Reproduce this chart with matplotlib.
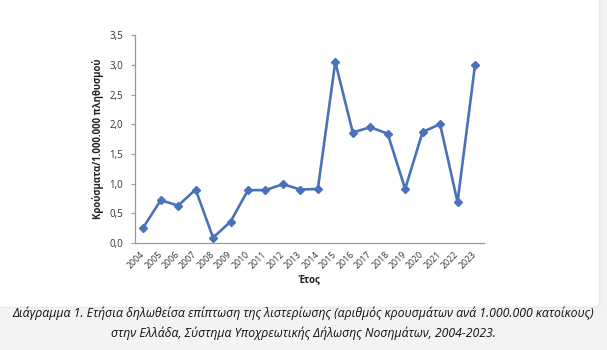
import matplotlib.pyplot as plt
from matplotlib.patches import FancyBboxPatch

# Data
years = ['2004', '2005', '2006', '2007', '2008', '2009', '2010', '2011', '2012', '2013',
         '2014', '2015', '2016', '2017', '2018', '2019', '2020', '2021', '2022', '2023']
incidence = [0.26, 0.72, 0.63, 0.90, 0.09, 0.36, 0.89, 0.89, 0.99, 0.90,
             0.91, 3.05, 1.86, 1.95, 1.84, 0.91, 1.87, 2.00, 0.69, 2.99]
y_ticks = [0.0, 0.5, 1.0, 1.5, 2.0, 2.5, 3.0, 3.5]
y_tick_labels = ['0,0', '0,5', '1,0', '1,5', '2,0', '2,5', '3,0', '3,5']

caption = ('Διάγραμμα 1. Ετήσια δηλωθείσα επίπτωση της λιστερίωσης (αριθμός κρουσμάτων ανά 1.000.000 κατοίκους)\n'
           'στην Ελλάδα, Σύστημα Υποχρεωτικής Δήλωσης Νοσημάτων, 2004-2023.')

plt.rcParams['font.family'] = ['Open Sans', 'DejaVu Sans']

fig = plt.figure(figsize=(6.07, 3.5), dpi=100, facecolor='#f3f3f3')

# white card behind the chart
card = FancyBboxPatch((-0.02, 0.122), 1.008, 0.9, boxstyle='round,pad=0,rounding_size=0.012',
                      transform=fig.transFigure, facecolor='white', edgecolor='#e6e6e6',
                      linewidth=0.8, zorder=0)
fig.patches.append(card)

ax = fig.add_axes([0.2216, 0.3057, 0.5753, 0.594], zorder=2)
ax.set_facecolor('none')
x = range(len(years))
ax.plot(x, incidence, color='#4a72b8', linewidth=1.9, marker='D', markersize=4.5,
        markerfacecolor='#4a72b8', markeredgecolor='#4a72b8')

ax.set_xlim(-0.5, len(years) - 0.5)
ax.set_ylim(0, 3.5)
ax.set_xticks(list(x))
ax.set_xticklabels(years, rotation=45, fontsize=6.3, color='#333333',
                   ha='right', va='center', rotation_mode='anchor')
ax.set_yticks(y_ticks)
ax.set_yticklabels(y_tick_labels, fontsize=7, color='#333333')
ax.tick_params(axis='x', length=0, pad=7)
ax.tick_params(axis='y', length=3, color='#999999', pad=5)

for side in ['top', 'right']:
    ax.spines[side].set_visible(False)
for side in ['left', 'bottom']:
    ax.spines[side].set_color('#999999')
    ax.spines[side].set_linewidth(0.9)

ax.set_ylabel('Κρούσματα/1.000.000 πληθυσμού', fontsize=6.9, fontweight='bold',
              color='#222222', labelpad=4)
ax.set_xlabel('Έτος', fontsize=6.9, fontweight='bold', color='#222222', labelpad=3)

fig.text(0.5, 0.077, caption, ha='center', va='center', fontsize=8.85, style='italic',
         color='#111111', linespacing=1.6, zorder=3)

fig.savefig('out.png', dpi=100, facecolor=fig.get_facecolor())
